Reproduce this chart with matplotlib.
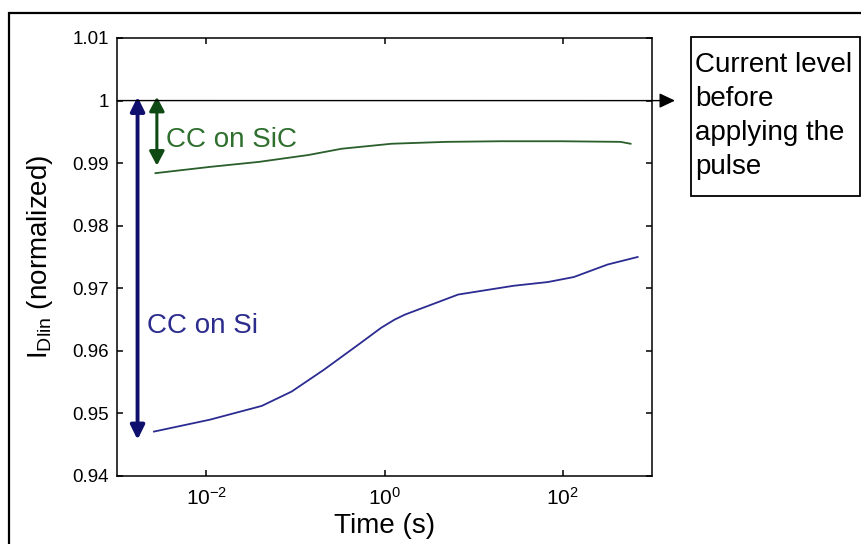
import matplotlib
matplotlib.use("Agg")
import matplotlib.pyplot as plt
from matplotlib.patches import Rectangle
from matplotlib.ticker import NullLocator, FixedLocator, FixedFormatter

# values
sic_time = [0.0027, 0.011, 0.039, 0.14, 0.33, 1.2, 4.9, 20, 95, 445, 575]
sic_level = [0.9884, 0.9894, 0.9902, 0.9913, 0.9923, 0.9931, 0.9934, 0.9935, 0.9935, 0.9934, 0.9931]

si_time = [0.0026, 0.011, 0.042, 0.091, 0.21, 0.51, 0.92, 1.3, 1.7, 6.7, 28, 68, 133, 318, 690]
si_level = [0.9471, 0.9490, 0.9512, 0.9535, 0.9570, 0.9610, 0.9637, 0.9650, 0.9658,
            0.9690, 0.9704, 0.9710, 0.9718, 0.9738, 0.9750]

yticks = [0.94, 0.95, 0.96, 0.97, 0.98, 0.99, 1.0, 1.01]
ytick_labels = ["0.94", "0.95", "0.96", "0.97", "0.98", "0.99", "1", "1.01"]
xticks = [1e-2, 1e0, 1e2]
xtick_labels = [r"$10^{-2}$", r"$10^{0}$", r"$10^{2}$"]

plt.rcParams["font.family"] = ["Liberation Sans", "DejaVu Sans"]
plt.rcParams["mathtext.fontset"] = "custom"
plt.rcParams["mathtext.rm"] = "Liberation Sans"
plt.rcParams["mathtext.it"] = "Liberation Sans:italic"
plt.rcParams["mathtext.bf"] = "Liberation Sans:bold"

W, H = 862, 544
fig = plt.figure(figsize=(W / 100, H / 100), dpi=100)
ax = fig.add_axes([117 / W, 1 - 476 / H, (652 - 117) / W, (476 - 38) / H])

green_line, green_arrow, green_text = "#2a5e2a", "#0f4a14", "#2f6f2f"
blue_line, blue_arrow, blue_text = "#2b2b92", "#0f0f6e", "#2c2c8e"

ax.plot(sic_time, sic_level, color=green_line, lw=1.3)
ax.plot(si_time, si_level, color=blue_line, lw=1.3)

ax.set_xscale("log")
ax.set_xlim(1e-3, 1e3)
ax.set_ylim(0.94, 1.01)
ax.xaxis.set_major_locator(FixedLocator(xticks))
ax.xaxis.set_major_formatter(FixedFormatter(xtick_labels))
ax.xaxis.set_minor_locator(NullLocator())
ax.yaxis.set_major_locator(FixedLocator(yticks))
ax.yaxis.set_major_formatter(FixedFormatter(ytick_labels))
ax.tick_params(which="both", direction="in", top=True, right=True, length=4.5, width=1.1)
ax.tick_params(axis="y", labelsize=13.5, pad=6)
ax.tick_params(axis="x", labelsize=15, pad=8)
for s in ax.spines.values():
    s.set_linewidth(1.1)

ax.set_xlabel("Time (s)", fontsize=20, labelpad=3)
ax.set_ylabel(r"I$_{\mathrm{Dlin}}$ (normalized)", fontsize=20, labelpad=12)

# double arrows showing the drop
ax.annotate("", xy=(0.0017, 0.9458), xytext=(0.0017, 1.0006),
            arrowprops=dict(arrowstyle="<|-|>,head_length=0.85,head_width=0.42",
                            lw=2.8, color=blue_arrow, shrinkA=0, shrinkB=0, mutation_scale=10))
ax.annotate("", xy=(0.0028, 0.9896), xytext=(0.0028, 1.0006),
            arrowprops=dict(arrowstyle="<|-|>,head_length=0.85,head_width=0.45",
                            lw=2.2, color=green_arrow, shrinkA=0, shrinkB=0, mutation_scale=10))

ax.text(0.0035, 0.9926, "CC on SiC", color=green_text, fontsize=20, va="baseline")
ax.text(0.00219, 0.9629, "CC on Si", color=blue_text, fontsize=20, va="baseline")

# reference level line with arrow out to the box
ax.annotate("", xy=(675 / W, 1 - 100.6 / H), xycoords="figure fraction",
            xytext=(0, 1.0), textcoords=("axes fraction", "data"),
            arrowprops=dict(arrowstyle="-|>,head_length=0.95,head_width=0.45",
                            lw=1.0, color="black", shrinkA=0, shrinkB=0, mutation_scale=10),
            annotation_clip=False)

fig.add_artist(Rectangle((691 / W, 1 - 196 / H), (860 - 691) / W, (196 - 37) / H,
                         transform=fig.transFigure, fill=False, lw=1.3, ec="black"))
fig.text(695 / W, 1 - 52 / H, "Current level\nbefore\napplying the\npulse",
         fontsize=20, va="top", ha="left", linespacing=1.4)

# outer frame (runs off the right and bottom of the image)
fig.add_artist(Rectangle((9 / W, -0.2), 1.2, 1.2 - 13 / H,
                         transform=fig.transFigure, fill=False, lw=1.6, ec="black"))

fig.savefig("out.png", dpi=100)
